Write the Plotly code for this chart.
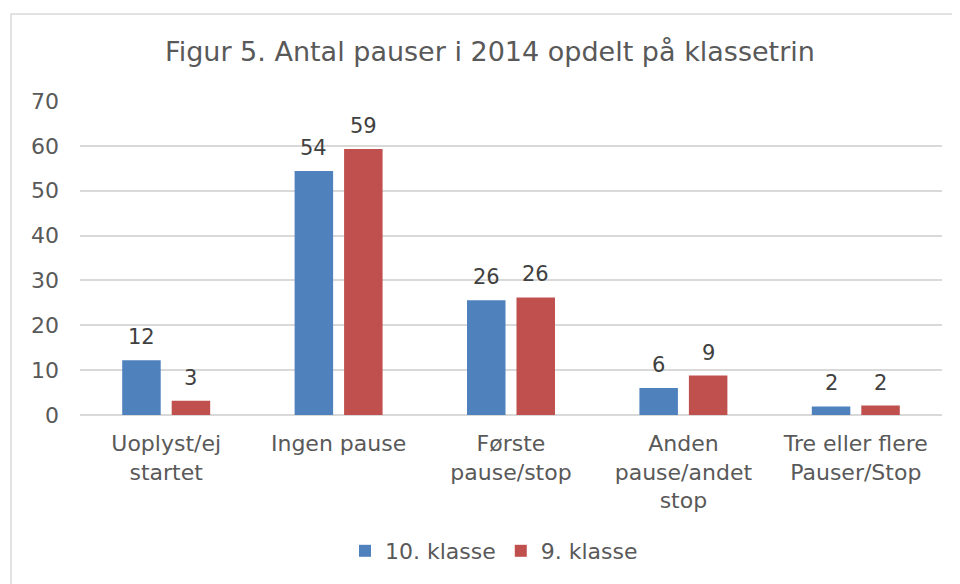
import plotly.graph_objects as go

categories = ["Uoplyst/ej<br>startet", "Ingen pause", "Første<br>pause/stop",
              "Anden<br>pause/andet<br>stop", "Tre eller flere<br>Pauser/Stop"]
klasse10 = [12.2, 54.4, 25.6, 6.0, 1.9]
klasse9 = [3.2, 59.3, 26.2, 8.8, 2.1]
series_names = ["10. klasse", "9. klasse"]
y_ticks = [0, 10, 20, 30, 40, 50, 60, 70]

OFF = 8  # page body margin
W, H = 952, 576
L, R, T, B = 72, 18, 93, 169
pw, ph = W - L - R, H - T - B

def px_x(x):  # window pixel -> paper
    return (x - OFF - L) / pw

def px_y(y):
    return (H - B - (y - OFF)) / ph

FONT = "DejaVu Sans"
colors = ["#4f81bd", "#c0504d"]
BARGAP, GROUPGAP = 0.426, 0.222
slot = pw / len(categories) * (1 - BARGAP) / 2

fig = go.Figure()
for name, vals, col in [(series_names[0], klasse10, colors[0]), (series_names[1], klasse9, colors[1])]:
    fig.add_trace(go.Bar(
        x=categories, y=vals, name=name, marker=dict(color=col, line=dict(width=0)),
    ))

annotations = []
for vals, shift in [(klasse10, -slot / 2), (klasse9, slot / 2)]:
    for c, v in zip(categories, vals):
        annotations.append(dict(x=c, y=v, xref="x", yref="y", text=f"{v:.0f}",
                                showarrow=False, xshift=shift, yshift=9, yanchor="bottom",
                                font=dict(family=FONT, size=21, color="#404040")))

fig.update_layout(
    width=W, height=H,
    margin=dict(l=L, r=R, t=T, b=B),
    paper_bgcolor="white", plot_bgcolor="white",
    barmode="group", bargap=BARGAP, bargroupgap=GROUPGAP,
    title=dict(text="Figur 5. Antal pauser i 2014 opdelt på klassetrin",
               x=px_x(490), xref="paper", xanchor="center",
               y=1 - (52 - OFF) / H, yanchor="middle",
               font=dict(family=FONT, size=27, color="#595959")),
    font=dict(family=FONT, color="#595959"),
    xaxis=dict(tickfont=dict(family=FONT, size=22, color="#595959"), showgrid=False,
               showline=False, ticks="", ticklabelstandoff=13),
    yaxis=dict(range=[0, 70], tickvals=y_ticks, tickfont=dict(family=FONT, size=22, color="#595959"),
               showgrid=True, gridcolor="#d9d9d9", gridwidth=1.5, zeroline=True,
               zerolinecolor="#d9d9d9", zerolinewidth=1.5, ticks="", ticklabelstandoff=20),
    legend=dict(orientation="h", x=px_x(494), xanchor="center",
                y=px_y(551), yanchor="middle",
                font=dict(family=FONT, size=22, color="#595959"), itemwidth=30),
    showlegend=True,
    annotations=annotations,
    shapes=[dict(type="rect", xref="paper", yref="paper",
                 x0=px_x(11), x1=px_x(975),
                 y0=px_y(600), y1=px_y(14),
                 line=dict(color="#d9d9d9", width=1.5), layer="below")],
)

fig.write_html("out.html")
